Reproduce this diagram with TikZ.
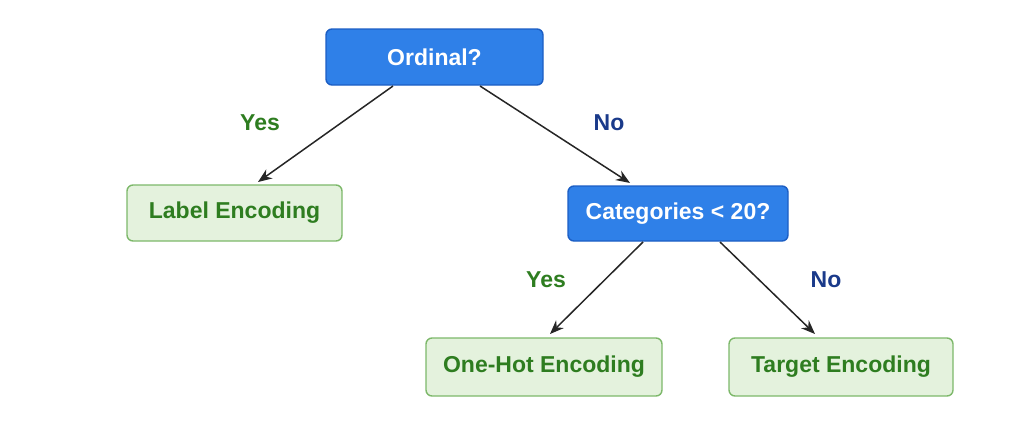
\documentclass[tikz,border=0pt]{standalone}
\usepackage{fontspec}
\setmainfont{Liberation Sans}
\usetikzlibrary{arrows.meta}
\definecolor{bfill}{HTML}{2F80E8}
\definecolor{bdraw}{HTML}{1C5EC4}
\definecolor{gfill}{HTML}{E4F2DD}
\definecolor{gdraw}{HTML}{7DB86A}
\definecolor{gtext}{HTML}{2E7D20}
\definecolor{ntext}{HTML}{1A3A8A}
\begin{document}
\begin{tikzpicture}[x=1pt,y=-1pt,
  q/.style={draw=bdraw,fill=bfill,line width=1.4pt,rounded corners=6pt,text=white,font=\fontsize{23}{26}\selectfont\bfseries,minimum height=56pt,inner sep=0pt},
  r/.style={draw=gdraw,fill=gfill,line width=1.4pt,rounded corners=6pt,text=gtext,font=\fontsize{23}{26}\selectfont\bfseries,minimum height=56pt,inner sep=0pt},
  a/.style={-{Stealth[length=14pt,width=11pt]},line width=1.5pt,draw=black!85},
  yes/.style={text=gtext,font=\fontsize{23}{26}\selectfont\bfseries},
  no/.style={text=ntext,font=\fontsize{23}{26}\selectfont\bfseries}]
\useasboundingbox (0,0) rectangle (1024,439);
\node[q,minimum width=217pt] (ord) at (434.5,57) {Ordinal?};
\node[r,minimum width=215pt] (lab) at (234.5,213) {Label Encoding};
\node[q,minimum width=220pt,minimum height=55pt] (cat) at (678,213.5) {Categories < 20?};
\node[r,minimum width=236pt,minimum height=58pt] (oh) at (544,367) {One-Hot Encoding};
\node[r,minimum width=224pt,minimum height=58pt] (te) at (841,367) {Target Encoding};
\coordinate (o1) at (393,86); \coordinate (o2) at (480,86);
\coordinate (c1) at (643,242); \coordinate (c2) at (720,242);
\draw[a] (o1) -- (258,182) coordinate (l1);
\draw[a] (o2) -- (630,183) coordinate (l2);
\draw[a] (c1) -- (550,334) coordinate (l3);
\draw[a] (c2) -- (815,334) coordinate (l4);
\node[yes] (y1) at (260,123) {Yes};
\node[no] (n1) at (609,123) {No};
\node[yes] (y2) at (546,280) {Yes};
\node[no] (n2) at (826,280) {No};
\end{tikzpicture}
\end{document}
